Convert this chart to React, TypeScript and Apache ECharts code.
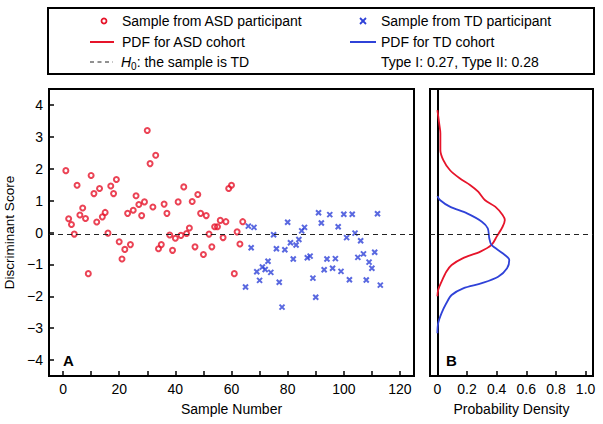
import React, { useEffect, useRef } from "react";
import * as echarts from "echarts";

// ---------- data ----------
const asdSample = [
  1, 2, 3, 4, 5, 6, 7, 8, 9, 10, 11, 12, 13, 14, 15, 16, 17, 18, 19, 20, 21, 22,
  23, 24, 25, 26, 27, 28, 29, 30, 31, 32, 33, 34, 35, 36, 37, 38, 39, 40, 41, 42,
  43, 44, 45, 46, 47, 48, 49, 50, 51, 52, 53, 54, 55, 56, 57, 58, 59, 60, 61, 62,
  63, 64,
];
const asdScore = [
  1.94, 0.43, 0.25, -0.05, 1.48, 0.55, 0.77, 0.44, -1.29, 1.79, 1.22, 0.33, 1.38,
  0.49, 0.63, -0.02, 1.46, 1.22, 1.66, -0.29, -0.83, -0.53, 0.6, -0.38, 0.7, 1.15,
  0.88, 0.53, 0.96, 3.2, 2.16, 0.8, 2.42, -0.51, -0.38, 0.89, 0.6, -0.08, -0.56,
  -0.18, 0.96, -0.09, 1.43, -0.03, 0.14, 0.97, -0.45, 1.19, 0.6, -0.69, 0.53,
  -0.05, -0.45, 0.18, 0.18, 0.38, -0.16, 0.34, 1.38, 1.48, -1.29, 0.02, -0.36,
  0.34,
];
const tdSample = [
  65, 66, 67, 68, 69, 70, 71, 72, 73, 74, 75, 76, 77, 78, 79, 80, 81, 82, 83, 84,
  85, 86, 87, 88, 89, 90, 91, 92, 93, 94, 95, 96, 97, 98, 99, 100, 101, 102, 103,
  104, 105, 106, 107, 108, 109, 110, 111, 112, 113,
];
const tdScore = [
  -1.71, 0.2, -0.48, 0.16, -1.23, -1.5, -1.08, -1.16, -0.9, -1.25, -0.07, -0.51,
  -1.56, -2.34, -0.54, 0.32, -0.32, -0.83, -0.39, -0.22, 0.05, 0.16, -0.79, -0.74,
  -1.43, -2.03, 0.62, 0.3, -1.17, -0.83, 0.56, -1.12, -0.82, 0.18, -1.22, 0.57,
  -0.16, -1.48, 0.57, -0.02, -0.78, -0.26, -0.67, -1.49, -0.93, -1.12, -0.62, 0.59,
  -1.65,
];
const asdPdfScore = [
  3.84, 3.42, 3.11, 2.59, 2.27, 1.96, 1.7, 1.49, 1.28, 1.02, 0.81, 0.55, 0.39, 0.18,
  -0.13, -0.39, -0.6, -0.81, -1.02, -1.23, -1.54, -1.8, -2.0,
];
const asdPdfDensity = [
  0, 0.012, 0.02, 0.02, 0.04, 0.084, 0.15, 0.22, 0.275, 0.32, 0.39, 0.44, 0.455,
  0.44, 0.4, 0.365, 0.29, 0.17, 0.096, 0.06, 0.028, 0.005, 0,
];
const tdPdfScore = [
  1.14, 1.02, 0.81, 0.6, 0.34, 0.13, -0.18, -0.39, -0.65, -0.86, -1.12, -1.39,
  -1.59, -1.75, -1.96, -2.22, -2.53, -2.85, -3.16,
];
const tdPdfDensity = [
  0, 0.017, 0.084, 0.2, 0.3, 0.34, 0.35, 0.365, 0.44, 0.485, 0.47, 0.41, 0.3, 0.174,
  0.096, 0.06, 0.028, 0.005, 0,
];
const threshold = -0.07;
const sampleTicks = [0, 10, 20, 30, 40, 50, 60, 70, 80, 90, 100, 110, 120];
const sampleLabels = [0, 20, 40, 60, 80, 100, 120];
const scoreTicks = [-4, -3, -2, -1, 0, 1, 2, 3, 4];
const densityTicks = [0, 0.2, 0.4, 0.6, 0.8, 1.0];
const legendTexts = [
  "Sample from ASD participant",
  "PDF for ASD cohort",
  "Sample from TD participant",
  "PDF for TD cohort",
  "Type I: 0.27, Type II: 0.28",
];

const RED = "#e6142a";
const BLUE = "#2f42d8";
const FONT = '"Liberation Sans", Arial, Helvetica, sans-serif';

export default function App() {
  const ref = useRef<HTMLDivElement>(null);
  useEffect(() => {
    document.body.style.margin = "0";
    if (!ref.current) return;
    const chart = echarts.init(ref.current, null, { renderer: "svg" });
    const txt = { color: "#000", fontSize: 14, fontFamily: FONT };
    const option: any = {
      animation: false,
      backgroundColor: "#fff",
      textStyle: { fontFamily: FONT },
      grid: [
        { left: 49, top: 89, width: 365, height: 287, show: true, borderColor: "#000", borderWidth: 2, outerBoundsMode: "none" },
        { left: 430, top: 89, width: 163, height: 287, show: true, borderColor: "#000", borderWidth: 2, outerBoundsMode: "none" },
      ],
      xAxis: [
        {
          gridIndex: 0, type: "value", min: -5, max: 125,
          splitLine: { show: false },
          axisLine: { show: false, onZero: false },
          axisTick: { show: true, inside: true, length: 5, customValues: sampleTicks, lineStyle: { color: "#000", width: 1.5 } },
          axisLabel: { customValues: sampleLabels, margin: 6, ...txt },
          name: "Sample Number", nameLocation: "middle", nameGap: 26, nameTextStyle: txt,
        },
        {
          gridIndex: 1, type: "value", min: -0.05, max: 1.05,
          splitLine: { show: false },
          axisLine: { show: false, onZero: false },
          axisTick: { show: true, inside: true, length: 5, customValues: densityTicks, lineStyle: { color: "#000", width: 1.5 } },
          axisLabel: {
            customValues: densityTicks, margin: 6, ...txt,
            formatter: (v: number) => (v === 0 ? "0" : v.toFixed(1)),
          },
          name: "Probability Density", nameLocation: "middle", nameGap: 26, nameTextStyle: txt,
        },
      ],
      yAxis: [
        {
          gridIndex: 0, type: "value", min: -4.5, max: 4.5,
          splitLine: { show: false },
          axisLine: { show: false, onZero: false },
          axisTick: { show: true, inside: true, length: 5, customValues: scoreTicks, lineStyle: { color: "#000", width: 1.5 } },
          axisLabel: {
            customValues: scoreTicks, margin: 6, ...txt,
            formatter: (v: number) => (v < 0 ? "\u2212" + Math.abs(v) : String(v)),
          },
          name: "Discriminant Score", nameLocation: "middle", nameGap: 29,
          nameTextStyle: { ...txt, fontSize: 13.5 },
        },
        {
          gridIndex: 1, type: "value", min: -4.5, max: 4.5,
          splitLine: { show: false },
          axisLine: { show: true, onZero: true, lineStyle: { color: "#000", width: 2 } },
          axisTick: { show: false },
          axisLabel: { show: false },
        },
      ],
      series: [
        {
          type: "scatter", xAxisIndex: 0, yAxisIndex: 0,
          data: asdSample.map((s, i) => [s, asdScore[i]]),
          symbol: "circle", symbolSize: 5,
          itemStyle: { color: "none", borderColor: RED, borderWidth: 2 },
          markLine: {
            silent: true, symbol: "none", label: { show: false },
            lineStyle: { type: [5, 4], color: "#222", width: 1 },
            data: [{ yAxis: threshold }],
          },
          z: 3,
        },
        {
          type: "scatter", xAxisIndex: 0, yAxisIndex: 0,
          data: tdSample.map((s, i) => [s, tdScore[i]]),
          symbol: "path://M0,0L10,10M10,0L0,10", symbolSize: 5,
          itemStyle: { color: "none", borderColor: BLUE, borderWidth: 2 },
          z: 3,
        },
        {
          type: "line", xAxisIndex: 1, yAxisIndex: 1,
          data: asdPdfDensity.map((d, i) => [d, asdPdfScore[i]]),
          showSymbol: false, smooth: 0.3,
          lineStyle: { color: RED, width: 1.8 },
          markLine: {
            silent: true, symbol: "none", label: { show: false },
            lineStyle: { type: [5, 4], color: "#222", width: 1 },
            data: [{ yAxis: threshold }],
          },
        },
        {
          type: "line", xAxisIndex: 1, yAxisIndex: 1,
          data: tdPdfDensity.map((d, i) => [d, tdPdfScore[i]]),
          showSymbol: false, smooth: 0.3,
          lineStyle: { color: BLUE, width: 1.8 },
        },
      ],
      graphic: [
        { type: "rect", shape: { x: 48, y: 8, width: 546, height: 66 }, style: { fill: "none", stroke: "#000", lineWidth: 2 } },
        { type: "circle", shape: { cx: 104, cy: 21, r: 2.5 }, style: { fill: "none", stroke: RED, lineWidth: 1.8 } },
        { type: "text", x: 122, y: 21, style: { text: legendTexts[0], fill: "#000", fontSize: 14, fontFamily: FONT, verticalAlign: "middle" } },
        { type: "line", shape: { x1: 90, y1: 42, x2: 114, y2: 42 }, style: { stroke: RED, lineWidth: 2 } },
        { type: "text", x: 122, y: 42, style: { text: legendTexts[1], fill: "#000", fontSize: 14, fontFamily: FONT, verticalAlign: "middle" } },
        { type: "line", shape: { x1: 90, y1: 62, x2: 113, y2: 62 }, style: { stroke: "#222", lineWidth: 1, lineDash: [4, 3.5] } },
        {
          type: "text", x: 121, y: 62,
          style: {
            text: "{i|H}{s|0}{n|: the sample is TD}",
            fill: "#000", fontSize: 14, fontFamily: FONT, verticalAlign: "middle",
            rich: {
              i: { fontStyle: "italic", fontSize: 14, fontFamily: FONT, lineHeight: 18, verticalAlign: "middle" },
              s: { fontSize: 10, fontFamily: FONT, lineHeight: 18, verticalAlign: "bottom", padding: [5, 0, 0, 0] },
              n: { fontSize: 14, fontFamily: FONT, lineHeight: 18, verticalAlign: "middle" },
            },
          },
        },
        { type: "line", shape: { x1: 360, y1: 18, x2: 366, y2: 24 }, style: { stroke: BLUE, lineWidth: 1.8 } },
        { type: "line", shape: { x1: 366, y1: 18, x2: 360, y2: 24 }, style: { stroke: BLUE, lineWidth: 1.8 } },
        { type: "text", x: 381, y: 21, style: { text: legendTexts[2], fill: "#000", fontSize: 14, fontFamily: FONT, verticalAlign: "middle" } },
        { type: "line", shape: { x1: 350, y1: 42, x2: 376, y2: 42 }, style: { stroke: BLUE, lineWidth: 2 } },
        { type: "text", x: 381, y: 42, style: { text: legendTexts[3], fill: "#000", fontSize: 14, fontFamily: FONT, verticalAlign: "middle" } },
        { type: "text", x: 381, y: 62, style: { text: legendTexts[4], fill: "#000", fontSize: 14, fontFamily: FONT, verticalAlign: "middle" } },
        { type: "text", x: 63, y: 360, style: { text: "A", fill: "#000", fontSize: 15, fontWeight: "bold", fontFamily: FONT, verticalAlign: "middle" } },
        { type: "text", x: 446, y: 360, style: { text: "B", fill: "#000", fontSize: 15, fontWeight: "bold", fontFamily: FONT, verticalAlign: "middle" } },
      ],
    };
    chart.setOption(option);
    return () => chart.dispose();
  }, []);
  return <div ref={ref} style={{ width: 603, height: 424 }} />;
}
